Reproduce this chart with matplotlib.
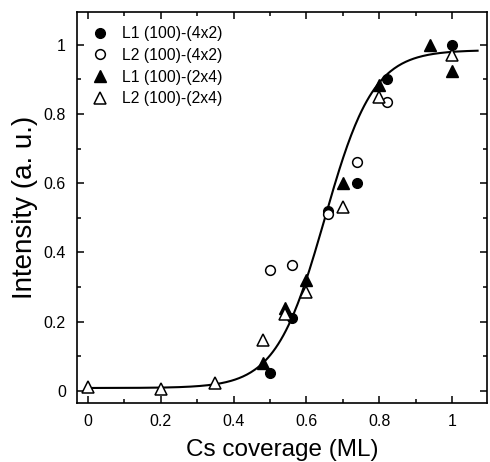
import matplotlib
matplotlib.use('Agg')
import matplotlib.pyplot as plt
from matplotlib.ticker import MultipleLocator
import numpy as np

plt.rcParams['font.family'] = ['Liberation Sans', 'DejaVu Sans']

# L1 (100)-(4x2), filled circles
l1_4x2_x = [0.50, 0.56, 0.66, 0.74, 0.82, 1.00]
l1_4x2_y = [0.05, 0.21, 0.52, 0.60, 0.90, 1.00]
# L2 (100)-(4x2), open circles
l2_4x2_x = [0.50, 0.56, 0.66, 0.74, 0.82]
l2_4x2_y = [0.35, 0.365, 0.51, 0.66, 0.835]
# L1 (100)-(2x4), filled triangles
l1_2x4_x = [0.48, 0.54, 0.60, 0.70, 0.80, 0.94, 1.00]
l1_2x4_y = [0.08, 0.24, 0.32, 0.60, 0.885, 1.00, 0.925]
# L2 (100)-(2x4), open triangles
l2_2x4_x = [0.00, 0.20, 0.35, 0.48, 0.54, 0.60, 0.70, 0.80, 1.00]
l2_2x4_y = [0.012, 0.004, 0.022, 0.148, 0.222, 0.286, 0.53, 0.85, 0.97]

# Boltzmann fit parameters
fit_a1, fit_a2, fit_x0, fit_dx = 0.008, 0.985, 0.65, 0.067
fit_range = (0.0, 1.07)

fig = plt.figure(figsize=(4.9, 4.62), dpi=100)
ax = fig.add_axes([0.157, 0.128, 0.837, 0.846])

xf = np.linspace(*fit_range, 300)
yf = fit_a2 + (fit_a1 - fit_a2) / (1 + np.exp((xf - fit_x0) / fit_dx))
ax.plot(xf, yf, color='black', lw=1.5, zorder=1)

ms = 7
ax.plot(l1_4x2_x, l1_4x2_y, 'o', color='black', ms=ms, label='L1 (100)-(4x2)', zorder=3)
ax.plot(l2_4x2_x, l2_4x2_y, 'o', mfc='white', mec='black', mew=1.1, ms=ms,
        label='L2 (100)-(4x2)', zorder=3)
ax.plot(l1_2x4_x, l1_2x4_y, '^', color='black', ms=ms + 1, label='L1 (100)-(2x4)', zorder=3)
ax.plot(l2_2x4_x, l2_2x4_y, '^', mfc='white', mec='black', mew=1.1, ms=ms + 1,
        label='L2 (100)-(2x4)', zorder=3)

ax.set_xlim(-0.03, 1.096)
ax.set_ylim(-0.035, 1.095)
ax.xaxis.set_minor_locator(MultipleLocator(0.1))
ax.yaxis.set_minor_locator(MultipleLocator(0.1))
ax.set_xticks([0, 0.2, 0.4, 0.6, 0.8, 1.0])
ax.set_xticklabels(['0', '0.2', '0.4', '0.6', '0.8', '1'])
ax.set_yticks([0, 0.2, 0.4, 0.6, 0.8, 1.0])
ax.set_yticklabels(['0', '0.2', '0.4', '0.6', '0.8', '1'])

ax.tick_params(which='both', direction='in', top=True, right=True, width=1.1)
ax.tick_params(which='major', length=5, labelsize=11.5, pad=8)
ax.tick_params(which='minor', length=3)
for s in ax.spines.values():
    s.set_linewidth(1.2)

ax.set_xlabel('Cs coverage (ML)', fontsize=17.5, labelpad=7)
ax.set_ylabel('Intensity (a. u.)', fontsize=20, labelpad=4)

ax.legend(loc='upper left', frameon=False, fontsize=11.3, handletextpad=0.75,
          handlelength=1.2, labelspacing=0.43, borderaxespad=0.5,
          bbox_to_anchor=(0.0, 1.0))

fig.savefig('out.png', dpi=100)
